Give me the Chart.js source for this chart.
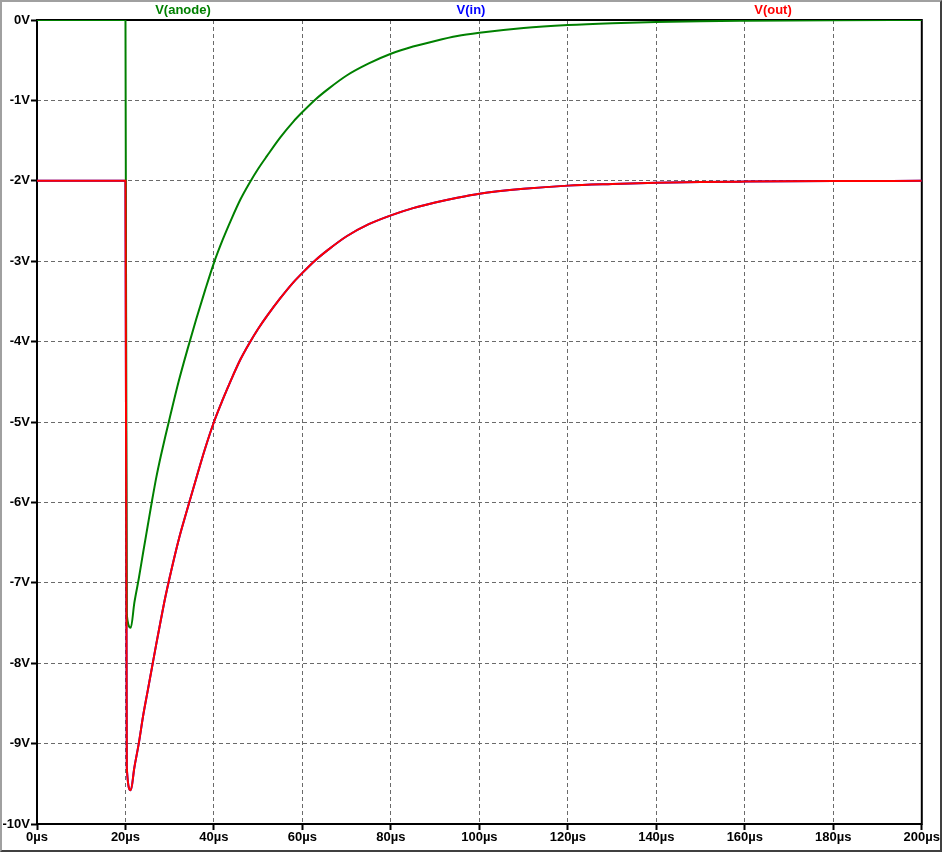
<!DOCTYPE html>
<html>
<head>
<meta charset="utf-8">
<script src="https://cdn.jsdelivr.net/npm/chart.js@4"></script>
<style>
  html, body { margin: 0; padding: 0; background: #fff; }
  #wrap {
    width: 942px; height: 852px; box-sizing: border-box;
    border: 2px solid; border-color: #a0a0a0 #404040 #404040 #a0a0a0;
    background: #fff;
  }
  canvas { display: block; }
</style>
</head>
<body>
<div id="wrap"><canvas id="scopeChart" width="938" height="848"></canvas></div>
<script>
// time axis in microseconds
const timeUs = [0, 20, 20.3, 21.2, 22, 23, 24, 25, 26, 27, 28, 29, 30, 32, 34, 36, 38, 40, 42, 44, 46, 48, 50, 52, 55, 58, 60, 63, 66, 70, 75, 80, 85, 90, 95, 100, 110, 120, 130, 140, 150, 160, 180, 200];

// voltages
const vAnode = [0, 0, -7.4, -7.56, -7.25, -6.95, -6.62, -6.3, -5.98, -5.68, -5.42, -5.18, -4.95, -4.5, -4.1, -3.72, -3.36, -3.02, -2.73, -2.47, -2.23, -2.03, -1.85, -1.69, -1.46, -1.26, -1.145, -0.985, -0.85, -0.69, -0.54, -0.42, -0.33, -0.26, -0.2, -0.16, -0.1, -0.063, -0.04, -0.025, -0.015, -0.01, -0.004, 0];
const vOut = [-2, -2, -9.3, -9.58, -9.3, -9.0, -8.65, -8.35, -8.05, -7.75, -7.46, -7.18, -6.93, -6.47, -6.08, -5.7, -5.33, -5.0, -4.72, -4.46, -4.22, -4.02, -3.84, -3.68, -3.46, -3.26, -3.145, -2.985, -2.85, -2.69, -2.54, -2.43, -2.34, -2.27, -2.21, -2.16, -2.1, -2.06, -2.04, -2.025, -2.015, -2.01, -2.004, -2];
const vIn = [-2, -2, -9.3, -9.58, -9.3, -9.0, -8.65, -8.35, -8.05, -7.75, -7.46, -7.18, -6.93, -6.47, -6.08, -5.7, -5.33, -5.0, -4.72, -4.46, -4.22, -4.02, -3.84, -3.68, -3.46, -3.26, -3.145, -2.985, -2.85, -2.69, -2.54, -2.43, -2.34, -2.27, -2.21, -2.16, -2.1, -2.06, -2.04, -2.025, -2.015, -2.01, -2.004, -2];

const xTicks = [0, 20, 40, 60, 80, 100, 120, 140, 160, 180, 200];
const yTicks = [0, -1, -2, -3, -4, -5, -6, -7, -8, -9, -10];

const traceNames = ['V(anode)', 'V(in)', 'V(out)'];
const traceColors = ['#008000', '#0000ff', '#ff0000'];
const nameX = [181, 469, 771];

const labelFont = { family: 'Liberation Sans, Arial, sans-serif', size: 13, weight: 'bold' };

function toPoints(values) {
  return values.map((v, i) => ({ x: timeUs[i], y: v }));
}

// black frame round the plot area, under the traces; trace names on top
const framePlugin = {
  id: 'frame',
  beforeDatasetsDraw(chart) {
    const { ctx, chartArea: a } = chart;
    ctx.save();
    ctx.strokeStyle = '#000';
    ctx.lineWidth = 2;
    ctx.strokeRect(a.left, a.top, a.right - a.left, a.bottom - a.top);
    ctx.restore();
  },
  afterDraw(chart) {
    const ctx = chart.ctx;
    ctx.save();
    ctx.font = 'bold 13px "Liberation Sans", Arial, sans-serif';
    ctx.textAlign = 'center';
    ctx.textBaseline = 'middle';
    traceNames.forEach((name, i) => {
      ctx.fillStyle = traceColors[i];
      ctx.fillText(name, nameX[i], 8);
    });
    ctx.restore();
  }
};

const gridStyle = {
  color: '#6a6a6a',
  lineWidth: 1,
  tickColor: '#000',
  tickWidth: 2,
  tickLength: 6,
  tickBorderDash: [],
};

const ctx = document.getElementById('scopeChart').getContext('2d');

const chart = new Chart(ctx, {
  type: 'line',
  data: {
    datasets: [
      { label: traceNames[1], data: toPoints(vIn), borderColor: traceColors[1], order: 3 },
      { label: traceNames[0], data: toPoints(vAnode), borderColor: traceColors[0], order: 2 },
      { label: traceNames[2], data: toPoints(vOut), borderColor: traceColors[2], order: 1 },
    ],
  },
  options: {
    responsive: false,
    animation: false,
    parsing: false,
    elements: {
      line: { borderWidth: 2, cubicInterpolationMode: 'monotone', fill: false },
      point: { radius: 0 },
    },
    layout: { padding: { left: 0, top: 18, right: 18, bottom: 0 } },
    plugins: {
      legend: { display: false },
      tooltip: { enabled: false },
    },
    scales: {
      x: {
        type: 'linear',
        min: 0,
        max: 200,
        afterFit(scale) { scale.height = 26; },
        afterBuildTicks(scale) { scale.ticks = xTicks.map(v => ({ value: v })); },
        border: { display: false, dash: [4, 3] },
        grid: gridStyle,
        ticks: {
          color: '#000',
          font: labelFont,
          padding: 0,
          maxRotation: 0,
          autoSkip: false,
          callback: v => v + 'µs',
        },
      },
      y: {
        type: 'linear',
        min: -10,
        max: 0,
        afterFit(scale) { scale.width = 35; },
        afterBuildTicks(scale) { scale.ticks = yTicks.map(v => ({ value: v })); },
        border: { display: false, dash: [4, 3] },
        grid: gridStyle,
        ticks: {
          color: '#000',
          font: labelFont,
          padding: 1,
          autoSkip: false,
          callback: v => v + 'V',
        },
      },
    },
  },
  plugins: [framePlugin],
});
</script>
</body>
</html>
